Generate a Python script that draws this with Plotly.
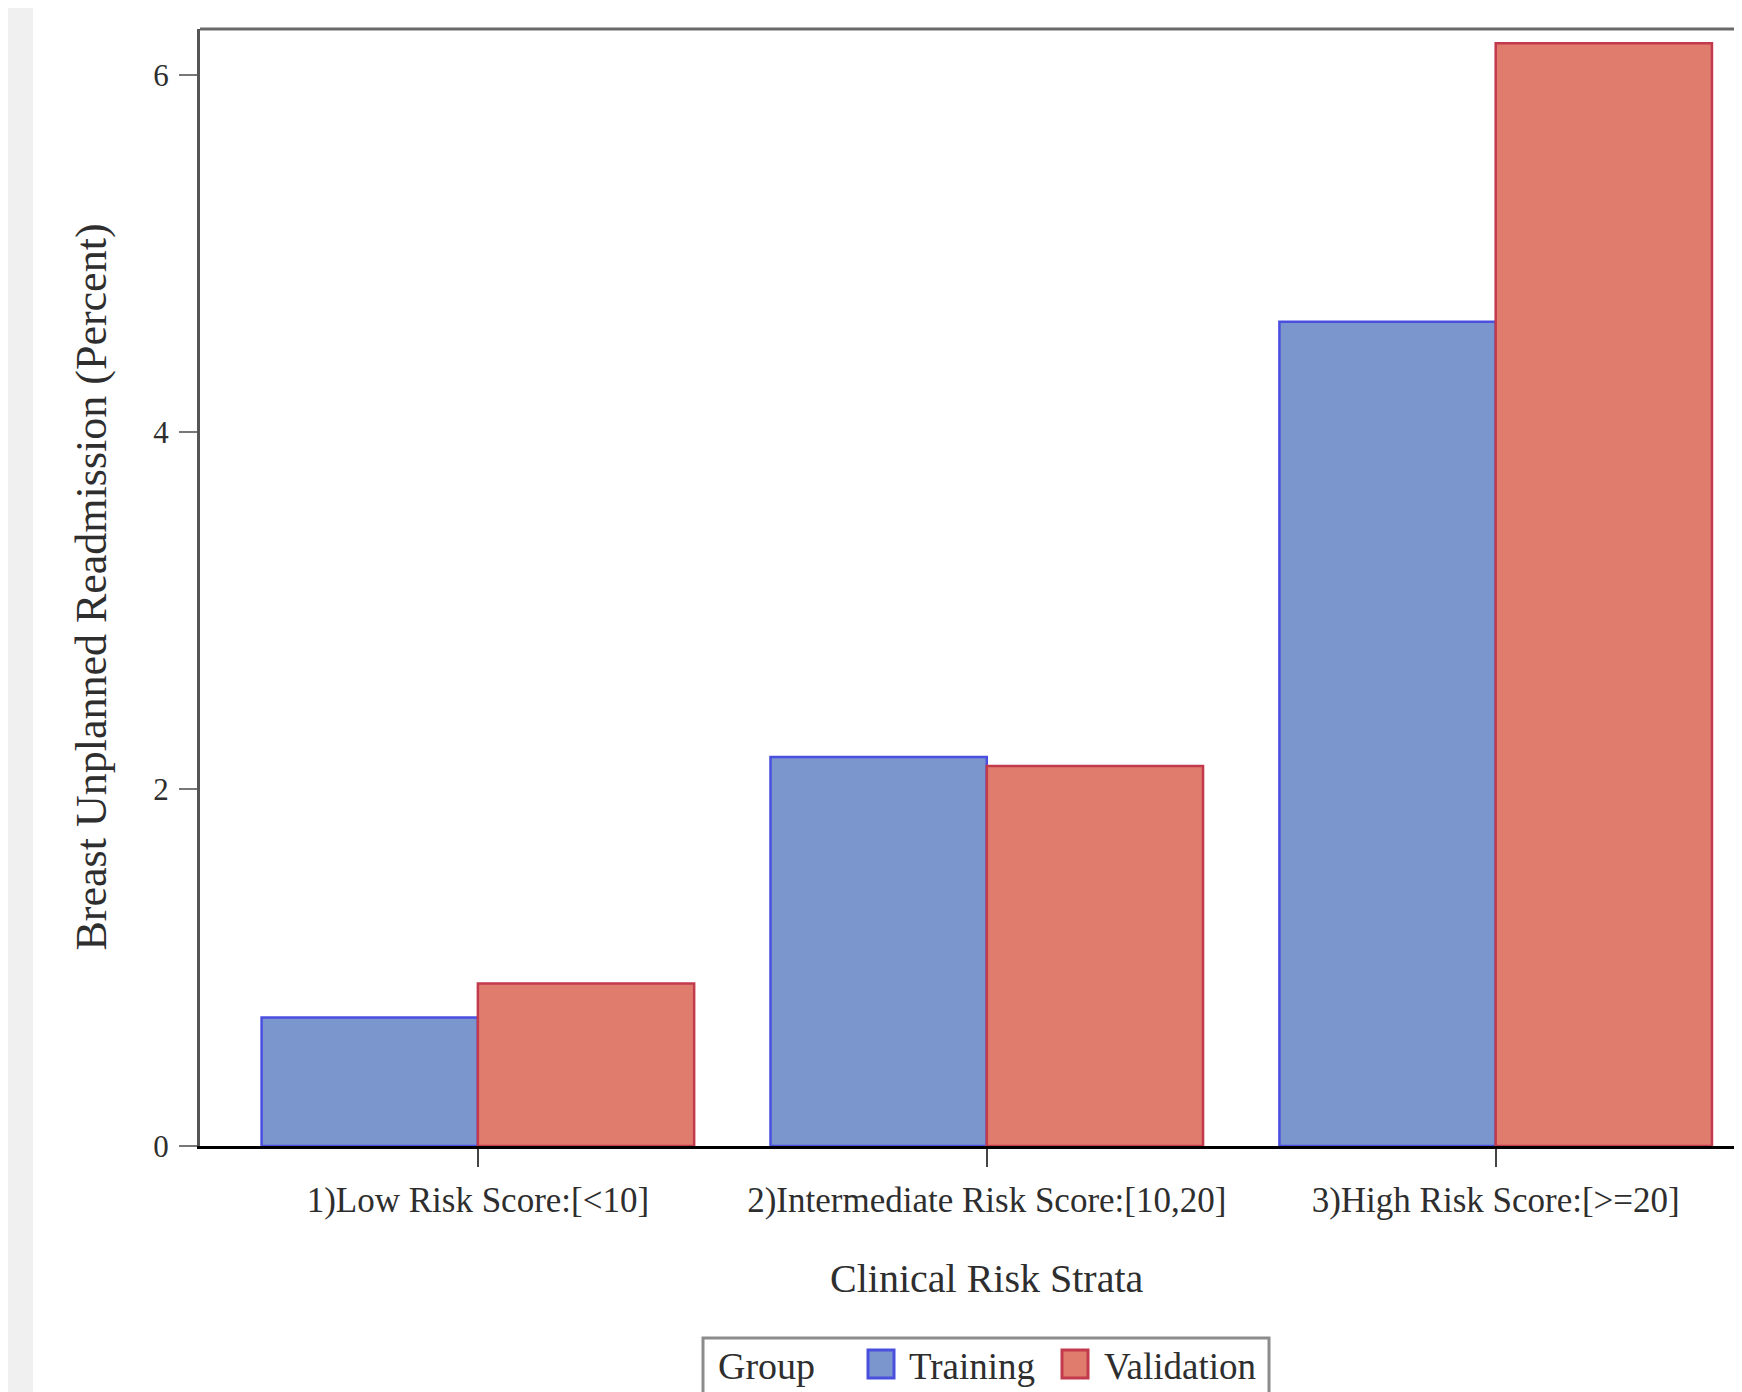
import plotly.graph_objects as go

strata = ["1)Low Risk Score:[<10]", "2)Intermediate Risk Score:[10,20]", "3)High Risk Score:[>=20]"]
training = [0.72, 2.18, 4.62]
validation = [0.91, 2.13, 6.18]
y_ticks = [0, 2, 4, 6]
groups = ["Training", "Validation"]
fills = ["#7b96cc", "#df7c6e"]
edges = ["#4b4fe0", "#c23a4c"]

FONT = "Liberation Serif"
TXT = "#2e2e2e"
OFF = 8  # page body margin
W, H = 1742 - OFF, 1392 - OFF
L, R, T, B = 200 - OFF, 0, 29 - OFF, 246
pw = W - L - R
ph = H - T - B


def px(fx):  # figure pixel x -> paper
    return (fx - L) / pw


def py(fy):  # figure pixel y -> paper
    return (H - B - fy) / ph


fig = go.Figure()
fig.add_trace(go.Bar(x=strata, y=training, name=groups[0], showlegend=False,
                     marker=dict(color=fills[0], line=dict(color=edges[0], width=2.5))))
fig.add_trace(go.Bar(x=strata, y=validation, name=groups[1], showlegend=False,
                     marker=dict(color=fills[1], line=dict(color=edges[1], width=2.5))))

shapes = [
    dict(type="rect", xref="paper", yref="paper", x0=px(-10), x1=px(33 - OFF),
         y0=py(H + 10), y1=py(-10), fillcolor="#f0f0f0", line=dict(width=0), layer="below"),
    dict(type="line", xref="paper", yref="paper", x0=0, x1=1, y0=1, y1=1,
         line=dict(color="#6a6a6a", width=3)),
    # legend box
    dict(type="rect", xref="paper", yref="paper", x0=px(703 - OFF), x1=px(1269 - OFF),
         y0=py(H + 20), y1=py(1338 - OFF), fillcolor="white",
         line=dict(color="#8c8c8c", width=3)),
]
annotations = [
    dict(text="Clinical Risk Strata", xref="x", x=strata[1], yref="paper",
         y=py(1278 - OFF), yanchor="middle", xanchor="center", showarrow=False,
         font=dict(family=FONT, size=40, color=TXT)),
    dict(text="Breast Unplanned Readmission (Percent)", xref="paper", x=px(91 - OFF),
         xanchor="center", yref="paper", y=0.5, yanchor="middle", textangle=-90, showarrow=False,
         font=dict(family=FONT, size=44, color=TXT)),
    dict(text="Group", xref="paper", x=px(716 - OFF), xanchor="left", yref="paper",
         y=py(1366 - OFF), yanchor="middle", showarrow=False,
         font=dict(family=FONT, size=38, color=TXT)),
]
sq_cx = [881, 1075]
txt_x = [907, 1102]
for i, g in enumerate(groups):
    cx = sq_cx[i] - OFF
    cy = 1364 - OFF
    shapes.append(dict(type="rect", xref="paper", yref="paper", x0=px(cx - 13), x1=px(cx + 13),
                       y0=py(cy + 14), y1=py(cy - 14), fillcolor=fills[i],
                       line=dict(color=edges[i], width=3)))
    annotations.append(dict(text=g, xref="paper", x=px(txt_x[i] - OFF), xanchor="left",
                            yref="paper", y=py(1366 - OFF), yanchor="middle", showarrow=False,
                            font=dict(family=FONT, size=37, color=TXT)))

fig.update_layout(
    width=W, height=H,
    margin=dict(l=L, r=R, t=T, b=B, autoexpand=False),
    paper_bgcolor="white", plot_bgcolor="white",
    barmode="group", bargap=0.15, bargroupgap=0,
    font=dict(family=FONT, color=TXT, size=30),
    showlegend=False,
    xaxis=dict(type="category", range=[-0.546, 2.484], showline=True, linecolor="black",
               linewidth=3, ticks="outside", ticklen=18, tickwidth=2, tickcolor="#444",
               showgrid=False, zeroline=False, ticklabelstandoff=3,
               tickfont=dict(family=FONT, size=35, color=TXT)),
    yaxis=dict(range=[0, 6.26], tickvals=y_ticks, showline=True, linecolor="#555",
               linewidth=3, ticks="outside", ticklen=18, tickwidth=2, tickcolor="#777",
               showgrid=False, zeroline=False, ticklabelstandoff=4,
               tickfont=dict(family=FONT, size=31, color=TXT)),
    shapes=shapes,
    annotations=annotations,
)

fig.write_html("out.html")
